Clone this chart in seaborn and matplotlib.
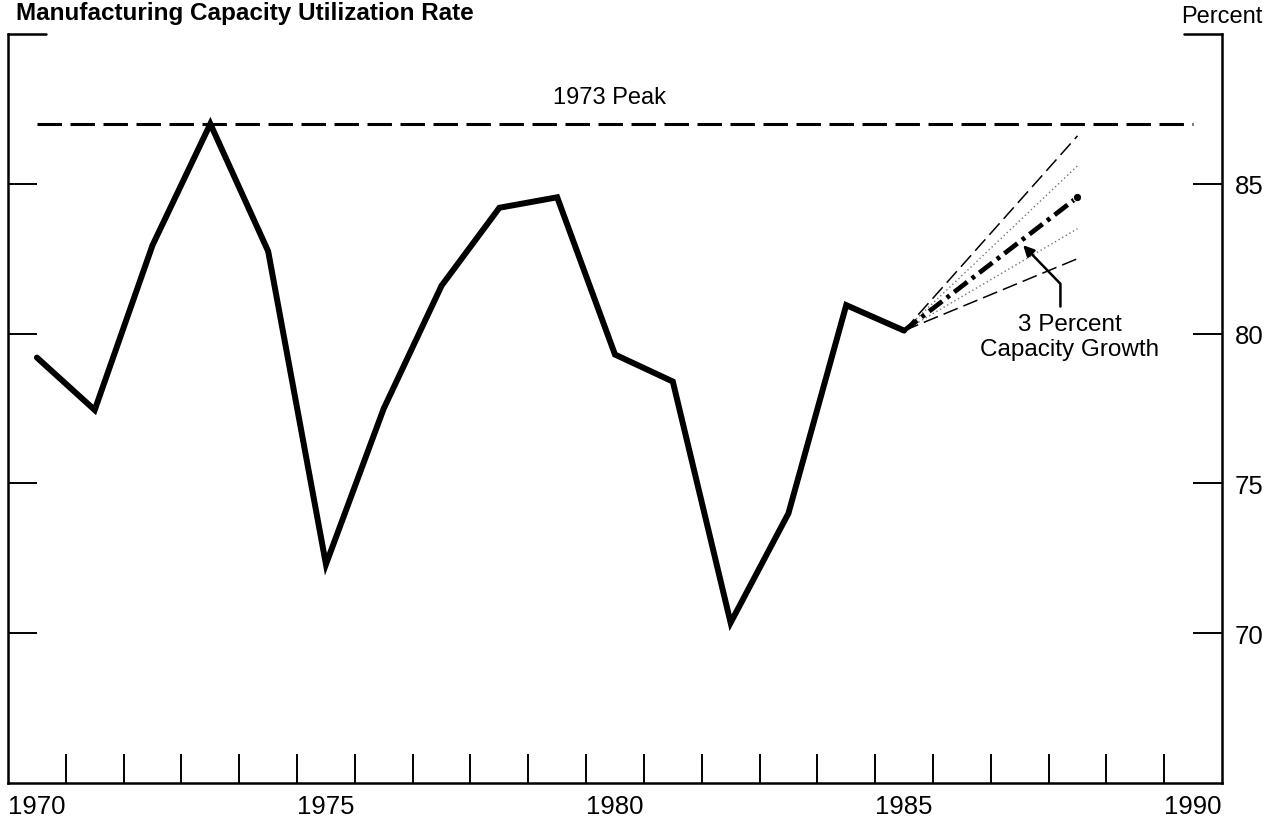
import numpy as np
import pandas as pd
import matplotlib
matplotlib.use('Agg')
import matplotlib.pyplot as plt
import seaborn as sns

# data (annual averages, percent)
years = list(range(1970, 1986))
rates = [79.2, 77.45, 82.95, 87.0, 82.75, 72.3, 77.5, 81.6, 84.2, 84.55,
         79.3, 78.4, 70.35, 74.0, 80.95, 80.1]

peak_years = [1970, 1990]
peak_value = [87.0, 87.0]

proj_years = [1985, 1988]
proj_mid = [80.1, 84.55]     # 3 percent capacity growth
proj_high = [80.1, 86.6]
proj_low = [80.1, 82.5]
band_high = [80.1, 85.6]
band_low = [80.1, 83.5]

year_labels = ['1970', '1975', '1980', '1985', '1990']
pct_ticks = [70, 75, 80, 85]

# points sit in the middle of each year interval
df = pd.DataFrame({'year': np.array(years) + 0.5, 'rate': rates})
peak = pd.DataFrame({'year': np.array(peak_years) + 0.5, 'rate': peak_value})
proj = pd.DataFrame({'year': np.array(proj_years) + 0.5,
                     'mid': proj_mid, 'high': proj_high, 'low': proj_low,
                     'bhigh': band_high, 'blow': band_low})

sns.set_theme(style='white')
plt.rcParams['font.family'] = ['Liberation Sans', 'DejaVu Sans']
plt.rcParams['font.size'] = 17
plt.rcParams['text.color'] = 'black'
plt.rcParams['xtick.color'] = 'black'
plt.rcParams['ytick.color'] = 'black'

fig = plt.figure(figsize=(12.8, 8.2), dpi=100)
ax = fig.add_axes([8 / 1280, 36 / 820, 1214 / 1280, 749 / 820])

# main series
sns.lineplot(data=df, x='year', y='rate', ax=ax, color='black', lw=4.3,
             solid_joinstyle='miter')

# 1973 peak reference
sns.lineplot(data=peak, x='year', y='rate', ax=ax, color='black', lw=2.2,
             linestyle=(0, (8, 2.8)))
ax.text(1980.4, 87.9, '1973 Peak', ha='center', va='center', fontsize=17)

# projections
sns.lineplot(data=proj, x='year', y='bhigh', ax=ax, color='0.45', lw=1.0,
             linestyle=(0, (1, 2)))
sns.lineplot(data=proj, x='year', y='blow', ax=ax, color='0.45', lw=1.0,
             linestyle=(0, (1, 2)))
sns.lineplot(data=proj, x='year', y='high', ax=ax, color='black', lw=1.1,
             linestyle=(0, (10, 4)))
sns.lineplot(data=proj, x='year', y='low', ax=ax, color='black', lw=1.1,
             linestyle=(0, (10, 4)))
sns.lineplot(data=proj, x='year', y='mid', ax=ax, color='black', lw=3.4,
             linestyle=(0, (3.5, 1.2, 0.8, 1.2)), marker='o', markersize=6,
             markevery=[1])

ax.annotate('3 Percent\nCapacity Growth', xy=(1987.56, 82.95),
            xytext=(1988.36, 80.7), ha='center', va='top', fontsize=17.5,
            arrowprops=dict(arrowstyle='-|>', color='black', lw=1.8,
                            connectionstyle='angle,angleA=90,angleB=-46,rad=0',
                            relpos=(0.45, 1.0), shrinkA=2, shrinkB=0,
                            mutation_scale=16))

# axes
ax.set_xlim(1970, 1991)
ax.set_ylim(65, 90)
ax.set_xlabel('')
ax.set_ylabel('')
ax.grid(False)

ax.set_xticks(range(1971, 1991))
ax.set_xticklabels([])
ax.set_xticks([int(y) + 0.5 for y in year_labels], labels=year_labels, minor=True)
ax.tick_params(axis='x', which='major', bottom=True, direction='in',
               length=21, width=1.4, color='black')
ax.tick_params(axis='x', which='minor', bottom=True, length=0, pad=8,
               labelsize=18.5, labelcolor='black')

ax.set_yticks(pct_ticks)
ax.set_yticklabels([str(v) for v in pct_ticks])
ax.tick_params(axis='y', left=True, right=True, labelleft=False,
               labelright=True, direction='in', length=21, width=1.4,
               color='black', labelcolor='black', pad=9, labelsize=18.5)

for side in ['left', 'right', 'bottom']:
    ax.spines[side].set_color('black')
    ax.spines[side].set_linewidth(1.8)
ax.spines['top'].set_visible(False)

# short corner pieces of the top frame
ax.plot([1970, 1970.65], [90, 90], color='black', lw=1.8, clip_on=False)
ax.plot([1990.35, 1991], [90, 90], color='black', lw=1.8, clip_on=False)

fig.text(16 / 1280, 1 - 2 / 820, 'Manufacturing Capacity Utilization Rate',
         ha='left', va='top', fontsize=17.5, fontweight='bold')
fig.text(1222 / 1280, 1 - 17 / 820, 'Percent', ha='center', va='center',
         fontsize=17)

plt.savefig('out.png', dpi=100)
